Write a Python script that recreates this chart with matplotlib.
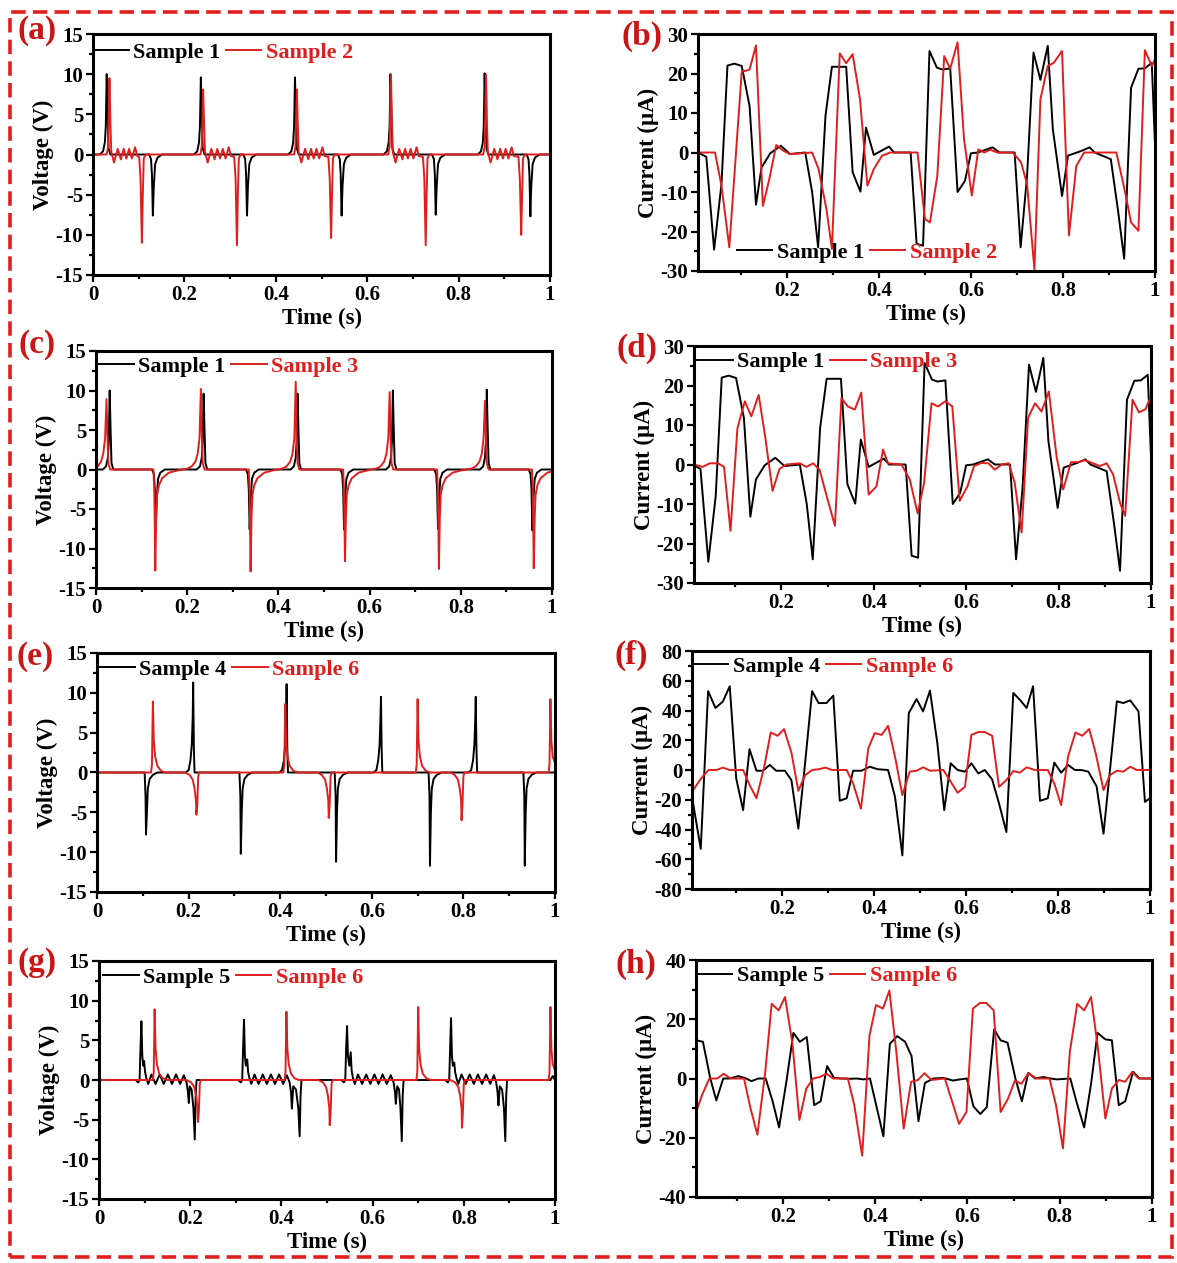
import matplotlib
matplotlib.use("Agg")
import matplotlib.pyplot as plt
from matplotlib.ticker import MultipleLocator
from matplotlib.patches import Rectangle

plt.rcParams['font.family'] = ['Liberation Serif', 'DejaVu Serif']
plt.rcParams['font.weight'] = 'bold'
plt.rcParams['axes.labelweight'] = 'bold'
plt.rcParams['axes.unicode_minus'] = False

RED = '#E01E1E'
LABEL_RED = '#CC1414'

# ---- voltage traces (time s, voltage V) ----
s1_volt = [(0, 0),
    (0.015, 0), (0.022, 0.4), (0.026, 1.5), (0.028, 3.5), (0.030, 10.0), (0.032, 5), (0.034, 0.8), (0.038, 0),
    (0.123, 0), (0.127, -0.6), (0.129, -2.5), (0.131, -7.6), (0.133, -4), (0.136, -1.2), (0.141, -0.4), (0.151, 0),
    (0.221, 0), (0.228, 0.4), (0.232, 1.5), (0.234, 3.5), (0.236, 9.6), (0.238, 5), (0.240, 0.8), (0.244, 0),
    (0.329, 0), (0.333, -0.6), (0.335, -2.5), (0.337, -7.6), (0.339, -4), (0.342, -1.2), (0.347, -0.4), (0.357, 0),
    (0.427, 0), (0.434, 0.4), (0.438, 1.5), (0.440, 3.5), (0.442, 9.6), (0.444, 5), (0.446, 0.8), (0.450, 0),
    (0.536, 0), (0.540, -0.6), (0.542, -2.5), (0.544, -7.6), (0.546, -4), (0.549, -1.2), (0.554, -0.4), (0.564, 0),
    (0.636, 0), (0.643, 0.4), (0.647, 1.5), (0.649, 3.5), (0.651, 10.0), (0.653, 5), (0.655, 0.8), (0.659, 0),
    (0.742, 0), (0.746, -0.6), (0.748, -2.5), (0.750, -7.5), (0.752, -4), (0.755, -1.2), (0.760, -0.4), (0.770, 0),
    (0.842, 0), (0.849, 0.4), (0.853, 1.5), (0.855, 3.5), (0.857, 10.1), (0.859, 5), (0.861, 0.8), (0.865, 0),
    (0.949, 0), (0.953, -0.6), (0.955, -2.5), (0.957, -7.7), (0.959, -4), (0.962, -1.2), (0.967, -0.4), (0.977, 0),
    (1.0, 0)]

s2_volt = [(0, 0),
    (0.030, 0), (0.033, 1), (0.036, 9.5), (0.038, 4), (0.040, 0.3), (0.046, -1.0), (0.054, 0.7), (0.061, -0.6),
    (0.067, 0.7), (0.073, -0.5), (0.079, 0.7), (0.085, -0.5), (0.092, 0.9), (0.097, -0.2),
    (0.101, -0.3), (0.104, -3), (0.107, -11.0), (0.109, -5), (0.111, -0.5), (0.115, 0),
    (0.235, 0), (0.238, 1), (0.241, 8.1), (0.243, 4), (0.245, 0.3), (0.251, -1.0), (0.259, 0.7), (0.266, -0.6),
    (0.272, 0.7), (0.278, -0.5), (0.284, 0.7), (0.290, -0.5), (0.297, 0.9), (0.302, -0.2),
    (0.309, -0.3), (0.312, -3), (0.315, -11.3), (0.317, -5), (0.319, -0.5), (0.323, 0),
    (0.440, 0), (0.443, 1), (0.446, 8.1), (0.448, 4), (0.450, 0.3), (0.456, -1.0), (0.464, 0.7), (0.471, -0.6),
    (0.477, 0.7), (0.483, -0.5), (0.489, 0.7), (0.495, -0.5), (0.502, 0.9), (0.507, -0.2),
    (0.515, -0.3), (0.518, -3), (0.521, -10.4), (0.523, -5), (0.525, -0.5), (0.529, 0),
    (0.646, 0), (0.649, 1), (0.652, 9.9), (0.654, 4), (0.656, 0.3), (0.662, -1.0), (0.670, 0.7), (0.677, -0.6),
    (0.683, 0.7), (0.689, -0.5), (0.695, 0.7), (0.701, -0.5), (0.708, 0.9), (0.713, -0.2),
    (0.722, -0.3), (0.725, -3), (0.728, -11.3), (0.730, -5), (0.732, -0.5), (0.736, 0),
    (0.854, 0), (0.857, 1), (0.860, 9.9), (0.862, 4), (0.864, 0.3), (0.870, -1.0), (0.878, 0.7), (0.885, -0.6),
    (0.891, 0.7), (0.897, -0.5), (0.903, 0.7), (0.909, -0.5), (0.916, 0.9), (0.921, -0.2),
    (0.931, -0.3), (0.934, -3), (0.937, -10.0), (0.939, -5), (0.941, -0.5), (0.945, 0),
    (1.0, 0)]

s3_volt = [
    (0.000, 0.2), (0.005, 0.5), (0.011, 1.0), (0.016, 2.0), (0.020, 4.0), (0.023, 8.9), (0.025, 4.5), (0.027, 0.8), (0.031, 0),
    (0.126, 0), (0.128, -3), (0.130, -12.8), (0.132, -6), (0.134, -3.2), (0.138, -2.0), (0.145, -1.1), (0.160, -0.4), (0.180, -0.1),
    (0.200, 0.1), (0.210, 0.4), (0.218, 1.0), (0.223, 2.0), (0.227, 4.0), (0.230, 10.2), (0.232, 4.5), (0.234, 0.8), (0.238, 0),
    (0.335, 0), (0.337, -3), (0.339, -12.9), (0.341, -6), (0.343, -3.2), (0.347, -2.0), (0.354, -1.1), (0.369, -0.4), (0.389, -0.1),
    (0.408, 0.1), (0.418, 0.4), (0.426, 1.0), (0.431, 2.0), (0.435, 4.0), (0.438, 11.1), (0.440, 4.5), (0.442, 0.8), (0.446, 0),
    (0.542, 0), (0.544, -3), (0.546, -11.6), (0.548, -6), (0.550, -3.2), (0.554, -2.0), (0.561, -1.1), (0.576, -0.4), (0.596, -0.1),
    (0.614, 0.1), (0.624, 0.4), (0.632, 1.0), (0.637, 2.0), (0.641, 4.0), (0.644, 9.8), (0.646, 4.5), (0.648, 0.8), (0.652, 0),
    (0.748, 0), (0.750, -3), (0.752, -12.6), (0.754, -6), (0.756, -3.2), (0.760, -2.0), (0.767, -1.1), (0.782, -0.4), (0.802, -0.1),
    (0.823, 0.1), (0.833, 0.4), (0.841, 1.0), (0.846, 2.0), (0.850, 4.0), (0.853, 8.7), (0.855, 4.5), (0.857, 0.8), (0.861, 0),
    (0.956, 0), (0.958, -3), (0.960, -12.5), (0.962, -6), (0.964, -3.2), (0.968, -2.0), (0.975, -1.1), (0.990, -0.4), (1.0, -0.25)]

s4_volt = [(0, 0),
    (0.104, 0), (0.106, -3), (0.107, -7.8), (0.109, -5), (0.111, -2), (0.115, -0.8), (0.122, -0.3), (0.132, 0),
    (0.194, 0), (0.200, 0.3), (0.204, 1.5), (0.207, 3.5), (0.209, 7), (0.210, 11.3), (0.2115, 3), (0.213, 0),
    (0.311, 0), (0.313, -3), (0.314, -10.2), (0.316, -5), (0.318, -2), (0.322, -0.8), (0.329, -0.3), (0.339, 0),
    (0.398, 0), (0.404, 0.3), (0.408, 1.5), (0.411, 3.5), (0.413, 7), (0.414, 11.1), (0.4155, 3), (0.417, 0),
    (0.519, 0), (0.521, -3), (0.522, -11.2), (0.524, -5), (0.526, -2), (0.530, -0.8), (0.537, -0.3), (0.547, 0),
    (0.604, 0), (0.610, 0.3), (0.614, 1.5), (0.617, 3.5), (0.619, 7), (0.620, 9.5), (0.6215, 3), (0.623, 0),
    (0.724, 0), (0.726, -3), (0.727, -11.7), (0.729, -5), (0.731, -2), (0.735, -0.8), (0.742, -0.3), (0.752, 0),
    (0.811, 0), (0.817, 0.3), (0.821, 1.5), (0.824, 3.5), (0.826, 7), (0.827, 9.5), (0.8285, 3), (0.830, 0),
    (0.931, 0), (0.933, -3), (0.934, -11.7), (0.936, -5), (0.938, -2), (0.942, -0.8), (0.949, -0.3), (0.959, 0),
    (1.0, 0)]

s5_volt = [(0, 0),
    (0.080, 0), (0.086, -0.3), (0.089, 0), (0.091, 4), (0.093, 7.4), (0.095, 3), (0.097, 1.8), (0.099, 2.4), (0.101, 1.0),
    (0.104, 0.2), (0.108, -0.5), (0.115, 0.7), (0.124, -0.5), (0.133, 0.7), (0.142, -0.5), (0.151, 0.7), (0.160, -0.5),
    (0.169, 0.7), (0.178, -0.5), (0.186, 0.6), (0.192, -0.3), (0.195, -1.5), (0.197, -2.9), (0.199, -0.8), (0.203, -1.2),
    (0.207, -3.5), (0.210, -7.5), (0.212, -2), (0.214, 0),
    (0.305, 0), (0.311, -0.3), (0.314, 0), (0.316, 4), (0.318, 7.6), (0.320, 3), (0.322, 1.8), (0.325, 2.6), (0.327, 1.0),
    (0.330, 0.2), (0.334, -0.5), (0.341, 0.7), (0.350, -0.5), (0.359, 0.7), (0.368, -0.5), (0.377, 0.7), (0.386, -0.5),
    (0.395, 0.7), (0.404, -0.5), (0.412, 0.6), (0.418, -0.3), (0.421, -1.5), (0.423, -3.6), (0.426, -0.8), (0.432, -1.2),
    (0.437, -3.5), (0.440, -7.1), (0.442, -2), (0.444, 0),
    (0.531, 0), (0.537, -0.3), (0.540, 0), (0.542, 4), (0.544, 6.8), (0.546, 3), (0.549, 1.8), (0.552, 3.5), (0.554, 1.2),
    (0.557, 0.2), (0.561, -0.5), (0.568, 0.7), (0.577, -0.5), (0.586, 0.7), (0.595, -0.5), (0.604, 0.7), (0.613, -0.5),
    (0.622, 0.7), (0.631, -0.5), (0.640, 0.6), (0.646, -0.3), (0.649, -1.5), (0.651, -3.0), (0.654, -0.8), (0.658, -1.2),
    (0.661, -3.5), (0.664, -7.7), (0.666, -2), (0.668, 0),
    (0.759, 0), (0.765, -0.3), (0.768, 0), (0.770, 4), (0.772, 7.8), (0.774, 3), (0.776, 1.8), (0.779, 2.2), (0.781, 1.0),
    (0.784, 0.2), (0.788, -0.5), (0.795, 0.7), (0.804, -0.5), (0.813, 0.7), (0.822, -0.5), (0.831, 0.7), (0.840, -0.5),
    (0.849, 0.7), (0.858, -0.5), (0.866, 0.6), (0.871, -0.3), (0.874, -1.5), (0.876, -3.2), (0.879, -0.8), (0.884, -1.2),
    (0.888, -3.5), (0.891, -7.7), (0.893, -2), (0.895, 0),
    (0.990, 0), (0.995, 0.5), (1.0, 0)]

s6_volt = [(0, 0),
    (0.118, 0), (0.120, 1), (0.122, 8.9), (0.124, 4), (0.127, 2), (0.132, 0.8), (0.140, 0.2), (0.150, 0),
    (0.192, 0), (0.202, -0.3), (0.209, -0.9), (0.213, -2), (0.216, -3.5), (0.217, -5.3), (0.219, -4), (0.221, -0.5), (0.223, 0),
    (0.407, 0), (0.409, 1), (0.411, 8.6), (0.413, 4), (0.416, 2), (0.421, 0.8), (0.429, 0.2), (0.439, 0),
    (0.481, 0), (0.491, -0.3), (0.498, -0.9), (0.502, -2), (0.505, -3.5), (0.506, -5.7), (0.508, -4), (0.510, -0.5), (0.512, 0),
    (0.696, 0), (0.698, 1), (0.700, 9.2), (0.702, 4), (0.705, 2), (0.710, 0.8), (0.718, 0.2), (0.728, 0),
    (0.771, 0), (0.781, -0.3), (0.788, -0.9), (0.792, -2), (0.795, -3.5), (0.796, -6.0), (0.798, -4), (0.800, -0.5), (0.802, 0),
    (0.986, 0), (0.988, 1), (0.990, 9.2), (0.992, 4), (0.995, 2), (1.0, 1.2)]

# ---- current traces (time s, current uA) ----
s1_curr = [(0.007, 0), (0.025, -1.1), (0.042, -24.6), (0.058, -8), (0.071, 22), (0.086, 22.5), (0.102, 21.9),
    (0.119, 11.8), (0.133, -13.2), (0.145, -3.8), (0.164, -0.2), (0.187, 1.7), (0.207, -0.4), (0.240, 0),
    (0.255, -10), (0.268, -24), (0.284, 9.3), (0.298, 21.7), (0.314, 21.7), (0.329, 21.7), (0.343, -5),
    (0.360, -9.9), (0.372, 6.3), (0.389, -0.6), (0.422, 1.5), (0.433, 0), (0.469, 0), (0.482, -23.1),
    (0.496, -23.6), (0.510, 25.7), (0.526, 21.5), (0.538, 21), (0.555, 21.3), (0.571, -10), (0.587, -7.2),
    (0.600, -0.2), (0.615, 0), (0.647, 1.3), (0.662, 0), (0.695, 0), (0.708, -24), (0.722, -6), (0.736, 25.3),
    (0.751, 18.4), (0.767, 27), (0.778, 5.9), (0.798, -11), (0.811, -0.8), (0.840, 0.4), (0.858, 1.3),
    (0.869, 0), (0.904, -1.7), (0.920, -15), (0.933, -26.9), (0.948, 16.4), (0.964, 21.2), (0.978, 21.3),
    (0.993, 22.7), (1.0, 2)]

s2_curr = [(0.007, 0), (0.044, 0), (0.058, -8.4), (0.075, -24), (0.102, 20.4), (0.119, 21), (0.133, 27.1),
    (0.148, -13.5), (0.162, -6.7), (0.177, 1.9), (0.193, 0.4), (0.207, -0.4), (0.255, 0), (0.269, -4.2),
    (0.286, -14.3), (0.298, -24.4), (0.315, 25.1), (0.329, 22.6), (0.343, 24.9), (0.359, 13.5), (0.375, -8.4),
    (0.389, -4.2), (0.407, -0.8), (0.425, 0), (0.484, 0), (0.500, -16.8), (0.511, -17.7), (0.527, -5.9),
    (0.542, 24.4), (0.555, 21.2), (0.571, 27.9), (0.585, 3.4), (0.602, -10.9), (0.616, 0.8), (0.629, 0),
    (0.642, 0.7), (0.657, 0), (0.691, 0), (0.709, -2.5), (0.722, -8), (0.738, -29.6), (0.751, 13.5),
    (0.767, 21.9), (0.780, 22.7), (0.798, 25.7), (0.813, -21), (0.829, -3.4), (0.846, 0), (0.916, 0),
    (0.935, -10), (0.948, -17.7), (0.964, -19.8), (0.978, 25.9), (0.993, 21.9), (1.0, 23.6)]

s3_curr = [(0.011, 0), (0.030, -0.6), (0.045, 0.3), (0.063, 0.3), (0.076, -0.6), (0.090, -16.8), (0.105, 9.2),
    (0.121, 16), (0.135, 12.2), (0.151, 17.6), (0.165, 7.1), (0.181, -6.7), (0.196, -1.1), (0.211, 0),
    (0.240, 0.3), (0.254, -0.6), (0.269, 0.3), (0.283, -1.4), (0.300, -8.8), (0.316, -15.5), (0.330, 16.8),
    (0.344, 14.7), (0.359, 13.9), (0.373, 18.2), (0.389, -7.6), (0.406, -5.5), (0.420, 3.8), (0.431, 0.3),
    (0.460, 0), (0.478, -3.8), (0.495, -12.4), (0.509, -4.6), (0.525, 15.5), (0.539, 14.7), (0.555, 16),
    (0.570, 14.7), (0.586, -9.2), (0.603, -5.5), (0.617, -0.4), (0.633, 0.4), (0.648, 0.3), (0.662, -1.3),
    (0.677, 0), (0.692, 0.3), (0.705, -4.6), (0.720, -17.2), (0.734, 11.8), (0.749, 15.5), (0.763, 13.4),
    (0.779, 18.5), (0.796, 1.7), (0.810, -6.3), (0.827, 0.6), (0.843, 0.6), (0.857, 1.1), (0.875, 0.3),
    (0.889, -0.4), (0.904, 0.3), (0.918, -2.5), (0.933, -9.7), (0.944, -13), (0.960, 16.4), (0.974, 13.2),
    (0.988, 14), (1.0, 17.2)]

s4_curr = [(0.005, -18), (0.024, -53), (0.040, 53), (0.056, 41.7), (0.072, 46), (0.087, 56.3), (0.101, -5.6),
    (0.116, -27), (0.130, 14), (0.145, -0.5), (0.159, -0.5), (0.174, 3.4), (0.188, -0.5), (0.207, -0.5),
    (0.221, -6.8), (0.236, -39.4), (0.251, 5.6), (0.266, 53), (0.280, 45), (0.297, 45), (0.312, 50),
    (0.326, -20.7), (0.341, -19), (0.355, -0.5), (0.373, -0.5), (0.391, 2.2), (0.409, 0.5), (0.431, 0),
    (0.446, -18), (0.462, -57.4), (0.476, 38.3), (0.493, 47.7), (0.507, 39.4), (0.522, 53.4), (0.538, 18),
    (0.553, -27), (0.567, 4.5), (0.582, 0), (0.598, -1.1), (0.612, 4.5), (0.627, -2.3), (0.641, 0),
    (0.657, -6.3), (0.672, -22.5), (0.688, -41.7), (0.703, 51.8), (0.717, 47.3), (0.732, 41.7), (0.746, 56.3),
    (0.761, -20.7), (0.778, -19), (0.792, 5), (0.807, -1.8), (0.822, 3.4), (0.837, 0), (0.851, 0),
    (0.866, -1.1), (0.884, -11), (0.899, -42.8), (0.913, 0), (0.928, 46.2), (0.942, 45), (0.957, 46.8),
    (0.975, 39.4), (0.989, -21.4), (1.0, -19)]

s5_curr = [(0.012, 12.9), (0.027, 12.4), (0.043, 0), (0.056, -7.4), (0.071, 0), (0.085, 0), (0.103, 0.8),
    (0.118, 0.2), (0.132, -0.9), (0.147, 0), (0.163, 0), (0.178, -7.7), (0.192, -16.5), (0.208, -0.9),
    (0.223, 15.4), (0.237, 12.4), (0.252, 14), (0.268, -9), (0.282, -7.7), (0.296, 4.2), (0.311, 0.2),
    (0.328, 0), (0.346, -0.1), (0.360, 0), (0.375, -0.3), (0.389, 0), (0.403, -9.4), (0.418, -19.5),
    (0.432, 11.7), (0.448, 14.3), (0.465, 12.4), (0.479, 7.6), (0.494, -14.4), (0.508, -1.5), (0.526, 0),
    (0.548, 0.2), (0.569, -0.7), (0.584, -0.3), (0.599, 0), (0.613, -9.4), (0.628, -12), (0.642, -9.7),
    (0.658, 16.6), (0.672, 12.9), (0.687, 12.1), (0.704, 0), (0.718, -7.7), (0.732, 1.9), (0.747, 0),
    (0.765, 0.5), (0.780, 0), (0.794, -0.3), (0.823, 0), (0.837, -8.2), (0.853, -16.5), (0.868, -1.8),
    (0.882, 15.4), (0.899, 13.2), (0.913, 12.9), (0.928, -9), (0.942, -7.7), (0.959, 2.3), (0.973, 0),
    (1.0, 0)]

s6_curr = [(0.005, -14.6), (0.025, -5.6), (0.041, 0), (0.058, 0), (0.072, 1.6), (0.087, 0), (0.116, 0),
    (0.130, -10), (0.145, -19), (0.162, 2.2), (0.176, 25.2), (0.191, 23), (0.205, 27.5), (0.221, 11.7),
    (0.236, -14), (0.251, -3.4), (0.266, 0), (0.280, 0.5), (0.295, 1.6), (0.309, 0), (0.341, 0),
    (0.355, -9), (0.372, -26), (0.388, 14.6), (0.402, 24.8), (0.417, 23.6), (0.431, 29.7), (0.446, 9),
    (0.462, -16.9), (0.478, -1.1), (0.493, -0.5), (0.507, 1.8), (0.522, -0.5), (0.551, 0), (0.565, -6.8),
    (0.582, -15.3), (0.598, -11.3), (0.612, 23.6), (0.627, 25.5), (0.641, 25.5), (0.657, 23), (0.672, -11.3),
    (0.688, -6.8), (0.703, -0.7), (0.717, -1.8), (0.732, 1.8), (0.750, 0), (0.778, 0), (0.792, -9),
    (0.807, -23.6), (0.822, 9), (0.838, 25.2), (0.853, 23), (0.868, 27.5), (0.882, 11.3), (0.899, -13.5),
    (0.913, -3.4), (0.928, -0.5), (0.942, -1.1), (0.957, 2.2), (0.971, 0), (1.0, 0)]

W, H = 1177, 1263
fig = plt.figure(figsize=(W / 100, H / 100), dpi=100)


def add_ax(l, r, t, b):
    return fig.add_axes([l / W, 1 - b / H, (r - l) / W, (b - t) / H])


def style(ax, ylim, ystep, yminor, x0, ylabel):
    ax.set_xticks([0, 0.2, 0.4, 0.6, 0.8, 1.0])
    ax.set_xticklabels(['0', '0.2', '0.4', '0.6', '0.8', '1'])
    ax.xaxis.set_minor_locator(MultipleLocator(0.1))
    ax.yaxis.set_major_locator(MultipleLocator(ystep))
    ax.yaxis.set_minor_locator(MultipleLocator(yminor))
    ax.set_xlim(x0, 1)
    ax.set_ylim(*ylim)
    ax.tick_params(which='both', direction='out', top=False, right=False, width=1.6)
    ax.tick_params(which='major', length=5, labelsize=15, pad=2)
    ax.tick_params(which='minor', length=3)
    for s in ax.spines.values():
        s.set_linewidth(2.2)
    ax.set_xlabel('Time (s)', fontsize=16.5, labelpad=2)
    ax.set_ylabel(ylabel, fontsize=16.5, labelpad=1)


def draw(ax, black, red, names, anchor):
    t, v = zip(*black)
    ax.plot(t, v, color='black', lw=1.4, label=names[0])
    t, v = zip(*red)
    ax.plot(t, v, color=RED, lw=1.4, label=names[1])
    ax.legend(loc='upper left', bbox_to_anchor=anchor, ncol=2, frameon=False,
              fontsize=16, handlelength=1.6, handletextpad=0.2, columnspacing=0.25,
              borderpad=0, borderaxespad=0, labelcolor='linecolor')


volt_label = 'Voltage (V)'
curr_label = 'Current (\u03bcA)'

ax = add_ax(93, 550, 34, 275)
draw(ax, s1_volt, s2_volt, ['Sample 1', 'Sample 2'], (0.0, 0.967))
style(ax, (-15, 15), 5, 2.5, 0, volt_label)

ax = add_ax(698, 1155, 34, 271)
draw(ax, s1_curr, s2_curr, ['Sample 1', 'Sample 2'], (0.085, 0.122))
style(ax, (-30, 30), 10, 5, 0.007, curr_label)

ax = add_ax(96, 552, 351, 588)
draw(ax, s1_volt, s3_volt, ['Sample 1', 'Sample 3'], (0.005, 0.979))
style(ax, (-15, 15), 5, 2.5, 0, volt_label)

ax = add_ax(694, 1151, 346, 583)
draw(ax, s1_curr, s3_curr, ['Sample 1', 'Sample 3'], (0.007, 0.975))
style(ax, (-30, 30), 10, 5, 0.011, curr_label)

ax = add_ax(97, 555, 653, 892)
draw(ax, s4_volt, s6_volt, ['Sample 4', 'Sample 6'], (0.005, 0.975))
style(ax, (-15, 15), 5, 2.5, 0, volt_label)

ax = add_ax(692, 1150, 651, 889)
draw(ax, s4_curr, s6_curr, ['Sample 4', 'Sample 6'], (0.002, 0.977))
style(ax, (-80, 80), 20, 10, 0.005, curr_label)

ax = add_ax(99, 555, 961, 1199)
draw(ax, s5_volt, s6_volt, ['Sample 5', 'Sample 6'], (0.009, 0.975))
style(ax, (-15, 15), 5, 2.5, 0, volt_label)

ax = add_ax(696, 1152, 960, 1197)
draw(ax, s5_curr, s6_curr, ['Sample 5', 'Sample 6'], (0.002, 0.975))
style(ax, (-40, 40), 20, 10, 0.012, curr_label)

# panel letters
letters = [('(a)', 37, 30), ('(b)', 642, 36), ('(c)', 37, 345), ('(d)', 637, 348),
           ('(e)', 35, 656), ('(f)', 631, 655), ('(g)', 37, 962), ('(h)', 636, 964)]
for txt, x, y in letters:
    fig.text(x / W, 1 - y / H, txt, color=LABEL_RED, fontsize=24, fontweight='bold',
             ha='center', va='center')

# dashed red frame around the whole figure
frame = Rectangle((10 / W, 1 - 1257 / H), 1162 / W, 1245 / H, transform=fig.transFigure,
                  fill=False, edgecolor=RED, lw=2.6, linestyle=(0, (4, 2)))
fig.patches.append(frame)

fig.savefig('out.png', dpi=100)
